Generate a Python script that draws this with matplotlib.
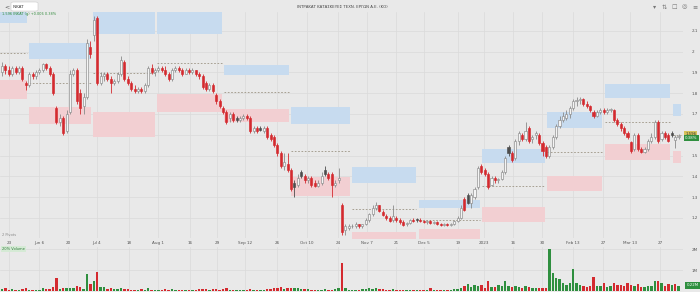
import matplotlib
matplotlib.use("Agg")
import matplotlib.pyplot as plt
import matplotlib.transforms as mtrans
from matplotlib.patches import FancyBboxPatch
import numpy as np

# --- daily candles, May 2022 -> Mar 2023 (index = trading day) ---
opens = [
    1.90, 1.93, 1.91, 1.89, 1.92, 1.90, 1.92, 1.85, 1.84, 1.89,
    1.88, 1.90, 1.91, 1.94, 1.92, 1.89, 1.73, 1.66, 1.68, 1.62,
    1.71, 1.89, 1.91, 1.80, 1.74, 1.78, 2.02, 2.08, 2.16, 1.85,
    1.88, 1.89, 1.87, 1.85, 1.86, 1.89, 1.95, 1.87, 1.85, 1.82,
    1.81, 1.82, 1.81, 1.84, 1.92, 1.90, 1.91, 1.92, 1.91, 1.89,
    1.87, 1.91, 1.92, 1.91, 1.89, 1.91, 1.90, 1.91, 1.89, 1.88,
    1.85, 1.82, 1.84, 1.79, 1.76, 1.73, 1.71, 1.68, 1.70, 1.68,
    1.67, 1.68, 1.69, 1.68, 1.62, 1.63, 1.63, 1.62, 1.63, 1.60,
    1.59, 1.55, 1.51, 1.45, 1.46, 1.43, 1.37, 1.36, 1.42, 1.40,
    1.38, 1.39, 1.37, 1.355, 1.37, 1.43, 1.41, 1.41, 1.36, 1.38,
    1.26, 1.14, 1.15, 1.16, 1.16, 1.17, 1.16, 1.17, 1.19, 1.22,
    1.25, 1.26, 1.23, 1.21, 1.20, 1.19, 1.20, 1.19, 1.18, 1.17,
    1.175, 1.19, 1.195, 1.19, 1.185, 1.18, 1.185, 1.175, 1.18, 1.17,
    1.165, 1.17, 1.165, 1.17, 1.185, 1.20, 1.29, 1.31, 1.27, 1.30,
    1.35, 1.45, 1.43, 1.41, 1.36, 1.39, 1.38, 1.385, 1.42, 1.54,
    1.51, 1.49, 1.57, 1.60, 1.58, 1.63, 1.58, 1.60, 1.60, 1.56,
    1.54, 1.50, 1.54, 1.59, 1.64, 1.67, 1.68, 1.70, 1.73, 1.76,
    1.765, 1.77, 1.75, 1.74, 1.71, 1.69, 1.71, 1.72, 1.71, 1.72,
    1.72, 1.67, 1.65, 1.63, 1.61, 1.565, 1.53, 1.60, 1.53, 1.515,
    1.53, 1.57, 1.59, 1.66, 1.58, 1.61, 1.60, 1.61, 1.575, 1.59,
]
highs = [
    1.95, 1.94, 1.93, 1.93, 1.93, 1.93, 1.93, 1.86, 1.90, 1.90,
    1.91, 1.92, 1.945, 1.945, 1.93, 1.90, 1.74, 1.70, 1.69, 1.72,
    1.91, 1.92, 1.92, 1.82, 1.80, 2.06, 2.05, 2.17, 2.17, 1.90,
    1.90, 1.90, 1.88, 1.87, 1.90, 1.98, 1.96, 1.88, 1.86, 1.84,
    1.83, 1.83, 1.85, 1.93, 1.94, 1.92, 1.93, 1.93, 1.93, 1.90,
    1.92, 1.93, 1.93, 1.92, 1.92, 1.92, 1.92, 1.91, 1.90, 1.89,
    1.86, 1.85, 1.85, 1.80, 1.77, 1.74, 1.72, 1.71, 1.71, 1.69,
    1.69, 1.70, 1.70, 1.69, 1.64, 1.64, 1.64, 1.64, 1.64, 1.61,
    1.60, 1.56, 1.52, 1.51, 1.51, 1.44, 1.38, 1.41, 1.43, 1.41,
    1.40, 1.40, 1.38, 1.38, 1.42, 1.45, 1.42, 1.42, 1.38, 1.44,
    1.27, 1.17, 1.17, 1.17, 1.18, 1.17, 1.17, 1.20, 1.225, 1.26,
    1.275, 1.26, 1.24, 1.22, 1.21, 1.26, 1.21, 1.20, 1.19, 1.18,
    1.195, 1.20, 1.20, 1.20, 1.19, 1.19, 1.19, 1.185, 1.185, 1.175,
    1.175, 1.175, 1.175, 1.19, 1.21, 1.26, 1.30, 1.32, 1.32, 1.35,
    1.45, 1.46, 1.44, 1.42, 1.40, 1.40, 1.39, 1.43, 1.50, 1.55,
    1.52, 1.58, 1.62, 1.61, 1.66, 1.64, 1.60, 1.62, 1.61, 1.57,
    1.55, 1.55, 1.60, 1.65, 1.69, 1.71, 1.72, 1.74, 1.77, 1.78,
    1.78, 1.775, 1.76, 1.745, 1.72, 1.72, 1.73, 1.73, 1.73, 1.73,
    1.725, 1.68, 1.66, 1.64, 1.62, 1.57, 1.61, 1.61, 1.54, 1.54,
    1.58, 1.61, 1.67, 1.67, 1.62, 1.62, 1.61, 1.62, 1.60, 1.605,
]
lows = [
    1.88, 1.89, 1.88, 1.88, 1.89, 1.89, 1.86, 1.815, 1.83, 1.87,
    1.87, 1.89, 1.90, 1.91, 1.88, 1.79, 1.65, 1.64, 1.60, 1.61,
    1.70, 1.88, 1.75, 1.70, 1.70, 1.77, 1.97, 2.05, 1.84, 1.84,
    1.86, 1.86, 1.80, 1.84, 1.85, 1.88, 1.86, 1.84, 1.81, 1.80,
    1.80, 1.80, 1.80, 1.83, 1.89, 1.88, 1.90, 1.90, 1.88, 1.86,
    1.86, 1.90, 1.90, 1.88, 1.89, 1.89, 1.89, 1.88, 1.87, 1.82,
    1.81, 1.81, 1.80, 1.75, 1.73, 1.70, 1.65, 1.66, 1.66, 1.66,
    1.66, 1.67, 1.67, 1.61, 1.61, 1.61, 1.62, 1.61, 1.58, 1.57,
    1.54, 1.50, 1.44, 1.43, 1.42, 1.33, 1.30, 1.35, 1.39, 1.37,
    1.37, 1.35, 1.35, 1.35, 1.36, 1.40, 1.38, 1.30, 1.35, 1.37,
    1.12, 1.12, 1.14, 1.15, 1.15, 1.15, 1.15, 1.165, 1.18, 1.21,
    1.24, 1.23, 1.21, 1.19, 1.18, 1.18, 1.18, 1.17, 1.16, 1.16,
    1.17, 1.18, 1.18, 1.18, 1.175, 1.17, 1.17, 1.17, 1.165, 1.16,
    1.16, 1.16, 1.16, 1.165, 1.18, 1.195, 1.235, 1.265, 1.25, 1.29,
    1.34, 1.41, 1.40, 1.34, 1.355, 1.37, 1.37, 1.38, 1.41, 1.50,
    1.47, 1.48, 1.55, 1.57, 1.57, 1.56, 1.56, 1.58, 1.55, 1.50,
    1.49, 1.49, 1.53, 1.58, 1.63, 1.66, 1.67, 1.68, 1.72, 1.74,
    1.75, 1.74, 1.73, 1.71, 1.68, 1.685, 1.70, 1.70, 1.70, 1.71,
    1.66, 1.64, 1.62, 1.60, 1.58, 1.51, 1.52, 1.52, 1.51, 1.51,
    1.52, 1.56, 1.58, 1.56, 1.57, 1.58, 1.565, 1.59, 1.535, 1.58,
]
closes = [
    1.93, 1.91, 1.89, 1.92, 1.90, 1.92, 1.87, 1.84, 1.89, 1.88,
    1.90, 1.91, 1.94, 1.92, 1.89, 1.80, 1.66, 1.68, 1.61, 1.70,
    1.89, 1.91, 1.76, 1.73, 1.78, 2.04, 1.99, 2.15, 1.85, 1.88,
    1.89, 1.87, 1.85, 1.86, 1.89, 1.96, 1.87, 1.85, 1.82, 1.81,
    1.82, 1.81, 1.84, 1.92, 1.90, 1.91, 1.92, 1.91, 1.89, 1.87,
    1.91, 1.92, 1.91, 1.89, 1.91, 1.90, 1.91, 1.89, 1.88, 1.83,
    1.82, 1.84, 1.81, 1.76, 1.74, 1.71, 1.66, 1.70, 1.67, 1.67,
    1.68, 1.69, 1.68, 1.62, 1.63, 1.62, 1.625, 1.63, 1.59, 1.58,
    1.55, 1.51, 1.45, 1.47, 1.43, 1.34, 1.35, 1.39, 1.40, 1.38,
    1.39, 1.36, 1.355, 1.37, 1.40, 1.41, 1.39, 1.36, 1.37, 1.39,
    1.13, 1.16, 1.16, 1.16, 1.17, 1.16, 1.17, 1.19, 1.22, 1.25,
    1.26, 1.235, 1.215, 1.20, 1.185, 1.21, 1.19, 1.18, 1.165, 1.175,
    1.19, 1.185, 1.19, 1.185, 1.18, 1.185, 1.175, 1.18, 1.17, 1.165,
    1.17, 1.165, 1.17, 1.185, 1.20, 1.25, 1.24, 1.27, 1.31, 1.34,
    1.44, 1.42, 1.41, 1.35, 1.39, 1.38, 1.385, 1.42, 1.49, 1.51,
    1.48, 1.57, 1.61, 1.58, 1.62, 1.57, 1.59, 1.61, 1.56, 1.52,
    1.50, 1.54, 1.59, 1.64, 1.67, 1.69, 1.70, 1.73, 1.76, 1.765,
    1.77, 1.75, 1.74, 1.72, 1.69, 1.71, 1.72, 1.71, 1.72, 1.725,
    1.67, 1.65, 1.63, 1.61, 1.59, 1.52, 1.60, 1.53, 1.515, 1.53,
    1.57, 1.59, 1.66, 1.57, 1.61, 1.59, 1.57, 1.60, 1.59, 1.596,
]
# volume in millions of shares
volumes = [
    0.08, 0.12, 0.06, 0.10, 0.05, 0.07, 0.09, 0.14, 0.06, 0.05,
    0.04, 0.06, 0.12, 0.10, 0.09, 0.18, 0.62, 0.10, 0.14, 0.12,
    0.15, 0.12, 0.24, 0.20, 0.10, 0.80, 0.33, 0.48, 0.90, 0.20,
    0.18, 0.10, 0.12, 0.08, 0.10, 0.15, 0.09, 0.11, 0.07, 0.06,
    0.05, 0.08, 0.06, 0.12, 0.07, 0.05, 0.06, 0.05, 0.09, 0.07,
    0.10, 0.06, 0.05, 0.07, 0.05, 0.04, 0.06, 0.05, 0.08, 0.10,
    0.09, 0.06, 0.08, 0.10, 0.07, 0.08, 0.12, 0.06, 0.07, 0.05,
    0.05, 0.06, 0.05, 0.09, 0.06, 0.05, 0.04, 0.06, 0.08, 0.10,
    0.12, 0.14, 0.18, 0.10, 0.12, 0.16, 0.15, 0.12, 0.10, 0.08,
    0.09, 0.06, 0.05, 0.04, 0.06, 0.08, 0.05, 0.07, 0.10, 0.12,
    1.33, 0.15, 0.07, 0.06, 0.05, 0.06, 0.08, 0.10, 0.14, 0.09,
    0.15, 0.10, 0.08, 0.06, 0.05, 0.09, 0.07, 0.06, 0.05, 0.04,
    0.05, 0.04, 0.06, 0.05, 0.07, 0.06, 0.13, 0.05, 0.06, 0.05,
    0.04, 0.05, 0.06, 0.08, 0.10, 0.15, 0.22, 0.33, 0.20, 0.30,
    0.25, 0.28, 0.14, 0.48, 0.20, 0.18, 0.30, 0.26, 0.48, 0.22,
    0.18, 0.25, 0.20, 0.15, 0.22, 0.18, 0.12, 0.14, 0.16, 0.12,
    0.15, 2.00, 0.86, 0.62, 0.57, 0.38, 0.30, 0.38, 1.05, 0.38,
    0.28, 0.22, 0.20, 0.25, 0.67, 0.22, 0.26, 0.38, 0.20, 0.24,
    0.38, 0.30, 0.28, 0.22, 0.38, 0.30, 0.25, 0.32, 0.20, 0.18,
    0.22, 0.25, 0.48, 0.48, 0.38, 0.24, 0.33, 0.30, 0.33, 0.22,
]

# --- monthly pivot zones (start / end in trading-day index) ---
period_start = [-0.6, 8.0, 26.9, 45.7, 65.4, 85.0, 103.0, 122.6, 141.3, 160.3, 177.3, 197.3]
period_end = [7.3, 26.2, 45.0, 64.7, 84.3, 102.3, 121.9, 140.6, 159.6, 176.6, 196.6, 199.7]
res_lo = [2.137, 1.964, 2.084, 2.084, 1.887, 1.651, 1.368, 1.248, 1.464, 1.632, 1.776, 1.690]
res_hi = [2.25, 2.041, 2.25, 2.25, 1.935, 1.733, 1.445, 1.286, 1.531, 1.709, 1.844, 1.748]
sup_lo = [1.772, 1.651, 1.589, 1.709, 1.661, 1.305, 1.05, 1.05, 1.180, 1.329, 1.478, 1.464]
sup_hi = [1.863, 1.733, 1.709, 1.796, 1.724, 1.397, 1.132, 1.147, 1.252, 1.401, 1.555, 1.522]
pivots = [1.993, 1.849, 1.897, 1.945, 1.805, 1.522, 1.243, 1.19, 1.353, 1.517, 1.663, 1.60]

tick_pos = [2.1, 10.9, 19.4, 27.9, 37.4, 45.9, 55.3, 63.2, 71.5, 80.9, 89.7, 98.8,
            107.4, 115.9, 124.1, 134.1, 141.8, 150.3, 158.8, 167.9, 176.8, 184.7, 193.5]
tick_labels = ["23", "Jun 6", "20", "Jul 4", "18", "Aug 1", "16", "29", "Sep 12", "26",
               "Oct 10", "24", "Nov 7", "21", "Dec 5", "19", "2023", "16", "30",
               "Feb 13", "27", "Mar 13", "27"]
price_ticks = [1.2, 1.3, 1.4, 1.5, 1.6, 1.7, 1.8, 1.9, 2.0, 2.1]
# the 1.6 label sits behind the last-price tags
price_labels = ["1.2", "1.3", "1.4", "1.5", "", "1.7", "1.8", "1.9", "2", "2.1"]
vol_ticks = [1, 2]
vol_labels = ["1M", "2M"]

BG = '#e9e9e9'
GRID = '#dadada'
BLUE = '#c7dbef'
PINK = '#f2cfd2'
RED = '#d42a2f'
GREEN = '#2f8f3f'
HOLLOW_EDGE = '#8a8a8a'
DARK = '#4d4d4d'

W, H = 700, 292
fig = plt.figure(figsize=(W / 100, H / 100), dpi=100)
fig.patch.set_facecolor(BG)


def fx(px):
    return px / W


def fy(py):
    return 1 - py / H


ax = fig.add_axes([0, fy(238), fx(683), (238 - 12) / H])
axv = fig.add_axes([0, fy(291), fx(683), (291 - 247) / H], sharex=ax)
for a in (ax, axv):
    a.set_facecolor(BG)
    for s in a.spines.values():
        s.set_visible(False)

# pivot zones
for k in range(len(period_start)):
    x0, x1 = period_start[k], period_end[k]
    ax.fill_between([x0, x1], res_lo[k], res_hi[k], color=BLUE, lw=0, zorder=1)
    ax.fill_between([x0, x1], sup_lo[k], sup_hi[k], color=PINK, lw=0, zorder=1)
    ax.hlines(pivots[k], x0, x1, colors='#9c9484', linestyles=(0, (2, 2)), lw=0.6, zorder=1.5)

# candles
o = np.array(opens)
h = np.array(highs)
l = np.array(lows)
c = np.array(closes)
x = np.arange(len(c))
prev = np.r_[c[0], c[:-1]]
up = c >= o
red = (~up) & (c < prev)
dark = (~up) & (c >= prev)
body_lo = np.minimum(o, c)
body_h = np.maximum(np.abs(c - o), 0.003)
for mask, face, edge in [(up, '#f4f4f4', HOLLOW_EDGE), (red, RED, RED), (dark, DARK, DARK)]:
    ax.vlines(x[mask], l[mask], h[mask], colors=edge, lw=0.6, zorder=3)
    ax.bar(x[mask], body_h[mask], 0.64, bottom=body_lo[mask], color=face,
           edgecolor=edge, lw=0.45, zorder=4)

ax.set_xlim(-0.59, 200.3)
ax.set_ylim(1.1034, 2.19)
ax.yaxis.tick_right()
ax.set_yticks(price_ticks, price_labels)
ax.set_xticks(tick_pos, tick_labels)
ax.tick_params(axis='both', length=0, labelsize=3, labelcolor='#555555')
ax.tick_params(axis='x', pad=2.2)
ax.tick_params(axis='y', pad=6)
ax.grid(color=GRID, lw=0.5, zorder=0)
ax.set_axisbelow(True)

# volume
vcol = np.where(c >= prev, GREEN, RED)
axv.bar(x, volumes, 0.7, color=vcol, lw=0, zorder=3)
axv.set_ylim(0, 2.1)
axv.yaxis.tick_right()
axv.set_yticks(vol_ticks, vol_labels)
axv.tick_params(axis='both', length=0, labelsize=3, labelcolor='#555555', pad=6)
axv.tick_params(axis='x', labelbottom=False)
axv.grid(color=GRID, lw=0.5, zorder=0)
axv.set_axisbelow(True)

# last price tags on the right
tr = mtrans.blended_transform_factory(ax.transAxes, ax.transData)
ax.text(1.003, 1.604, "1.596", transform=tr, fontsize=2.8, color='#333333', va='center',
        ha='left', clip_on=False, zorder=10,
        bbox=dict(boxstyle='square,pad=0.35', fc='#d6c25a', ec='none'))
ax.text(1.003, 1.584, "0.38%", transform=tr, fontsize=2.8, color='white', va='center',
        ha='left', clip_on=False, zorder=10,
        bbox=dict(boxstyle='square,pad=0.35', fc=GREEN, ec='none'))
trv = mtrans.blended_transform_factory(axv.transAxes, axv.transData)
axv.text(1.005, volumes[-1] + 0.05, "0.22M", transform=trv, fontsize=2.8, color='white',
         va='center', ha='left', clip_on=False, zorder=10,
         bbox=dict(boxstyle='square,pad=0.35', fc=GREEN, ec='none'))

# header bits
fig.text(fx(4), fy(7), "<", fontsize=4.5, color='#555555', va='center', ha='left')
fig.patches.append(FancyBboxPatch((fx(11), fy(11)), fx(27), 9 / H,
                                  boxstyle='round,pad=0,rounding_size=0.004',
                                  transform=fig.transFigure, fc='white', ec='#cccccc', lw=0.4))
fig.text(fx(13), fy(6.8), "INKAT", fontsize=3, color='#333333', va='center', ha='left')
fig.text(fx(2), fy(14.5), "1.596 INKAT (g) +0.006 0.38%", fontsize=2.5, color='#2f8a3a',
         va='center', ha='left')
fig.text(fx(342), fy(7), "ΙΝΤΡΑΚΑΤ ΚΑΤΑΣΚΕΥΕΣ ΤΕΧΝ. ΕΡΓΩΝ Α.Ε. (ΚΟ)", fontsize=2.8,
         color='#444444', va='center', ha='center')
for px, glyph in [(655, "▾"), (664, "⇅"), (674, "☐"), (684, "◎"), (695, "≡")]:
    fig.text(fx(px), fy(7), glyph, fontsize=4.5, color='#777777', va='center', ha='center')
fig.text(fx(2), fy(235), "2 Pivots", fontsize=2.6, color='#888888', va='center', ha='left')
fig.text(fx(2), fy(249), "20% Volume", fontsize=2.6, color='#2f7a3a', va='center', ha='left',
         bbox=dict(boxstyle='square,pad=0.3', fc='#d5ead5', ec='none'))

fig.savefig("out.png", dpi=100, facecolor=BG)
